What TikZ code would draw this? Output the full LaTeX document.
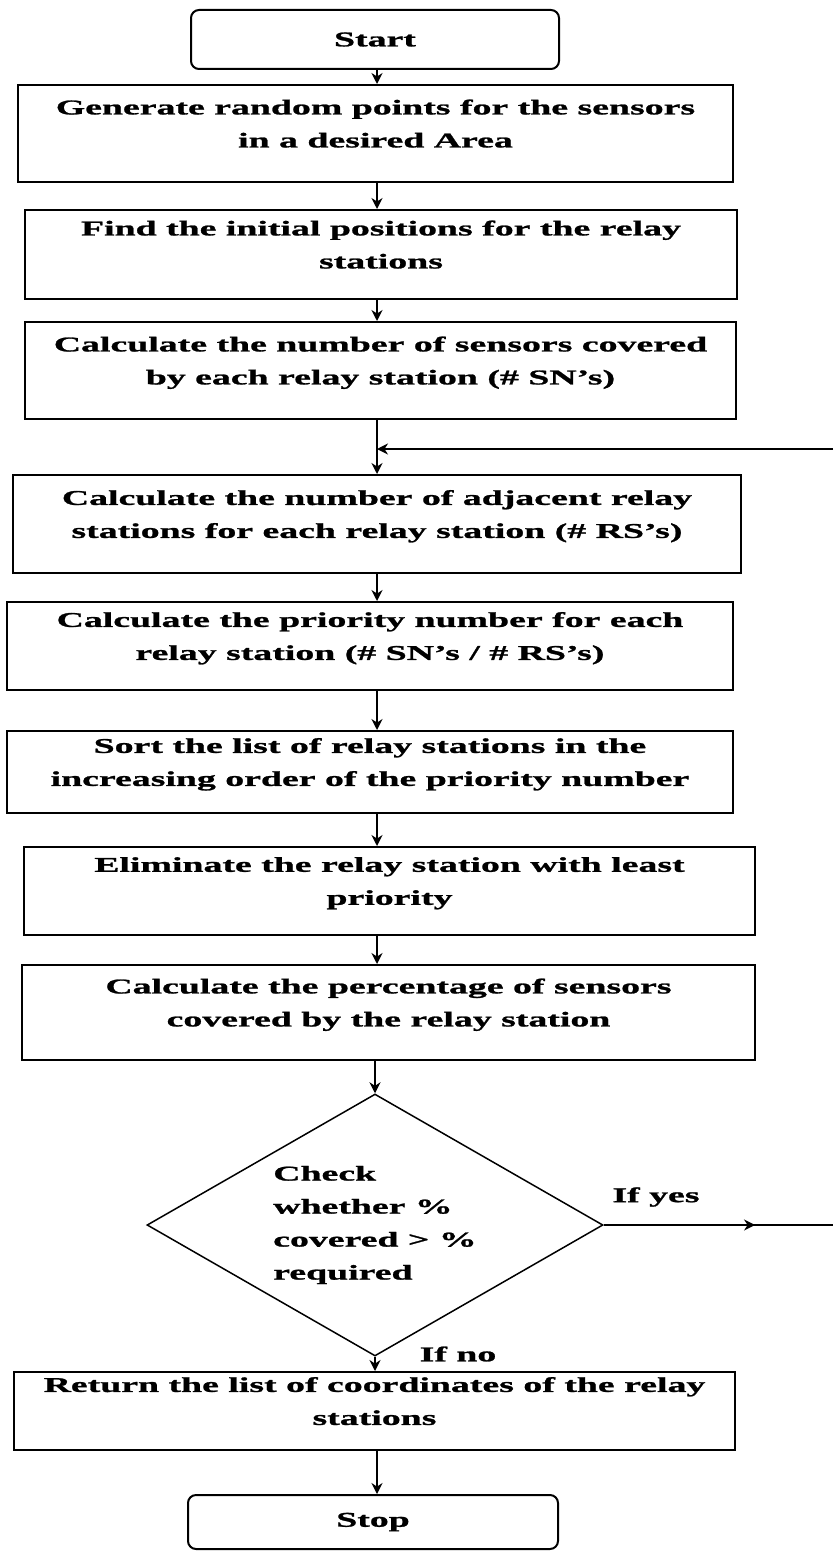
\documentclass[tikz,border=0pt]{standalone}
\usepackage{fontspec}
\newfontfamily\chartfont[FakeStretch=1.8,BoldFeatures={FakeBold=1.2}]{Liberation Serif}
\usepackage{tikz}
\usetikzlibrary{arrows.meta,shapes.geometric,positioning}
\usetikzlibrary{decorations.markings}
\tikzset{>={Stealth[length=11pt,width=11pt]}}
\tikzset{
  chart/.style={font=\chartfont\bfseries\fontsize{21}{33}\selectfont},
  procbox/.style={chart,draw,line width=2pt,inner sep=0pt,align=center,text depth=20pt},
  termbox/.style={chart,draw,line width=2pt,inner sep=0pt,rounded corners=8pt},
  decide/.style={chart,draw,line width=1.5pt,diamond,aspect=1.74,inner sep=0pt,align=left,
    minimum width=456pt,minimum height=262pt},
  flow/.style={line width=2pt,->},
  midflow/.style={line width=2pt,postaction={decorate},
    decoration={markings,mark=at position 0.66 with {\arrow{>}}}}
}
\begin{document}
\begin{tikzpicture}[x=1pt,y=-1pt]
  \useasboundingbox (0,0) rectangle (833,1552);
  \coordinate (axis) at (377,0);
  \node[termbox,minimum width=368pt,minimum height=59pt] (start) at (375,39.5) {Start};
  \node[procbox,minimum width=715pt,minimum height=97pt] (gen) at (375.5,133.5)
    {Generate random points for the sensors\\in a desired Area};
  \node[procbox,minimum width=712pt,minimum height=89pt] (init) at (381,254.5)
    {Find the initial positions for the relay\\stations};
  \node[procbox,minimum width=711pt,minimum height=97pt] (numsn) at (380.5,370.5)
    {Calculate the number of sensors covered\\by each relay station (\# SN’s)};
  \node[procbox,minimum width=728pt,minimum height=98pt] (numrs) at (377,524)
    {Calculate the number of adjacent relay\\stations for each relay station (\# RS’s)};
  \node[procbox,minimum width=726pt,minimum height=88pt] (prio) at (370,646)
    {Calculate the priority number for each\\relay station (\# SN’s / \# RS’s)};
  \node[procbox,minimum width=726pt,minimum height=82pt] (sort) at (370,772)
    {Sort the list of relay stations in the\\increasing order of the priority number};
  \node[procbox,minimum width=731pt,minimum height=88pt] (elim) at (389.5,891)
    {Eliminate the relay station with least\\priority};
  \node[procbox,minimum width=733pt,minimum height=95pt] (perc) at (388.5,1012.5)
    {Calculate the percentage of sensors\\covered by the relay station};
  \node[decide] (check) at (375,1225)
    {Check\\whether \%\\covered > \%\\required};
  \node[procbox,minimum width=721pt,minimum height=78pt] (ret) at (374.5,1411)
    {Return the list of coordinates of the relay\\stations};
  \node[termbox,minimum width=370pt,minimum height=54pt] (stop) at (373,1522) {Stop};
  \node[chart] (yeslabel) at (656,1197) {If yes};
  \node[chart] (nolabel) at (458,1354) {If no};
  \coordinate (loopin) at (833,449);
  \coordinate (yesout) at (833,1225);
  \draw[flow] (start.south -| axis) -- (gen.north -| axis);
  \draw[flow] (gen.south -| axis) -- (init.north -| axis);
  \draw[flow] (init.south -| axis) -- (numsn.north -| axis);
  \draw[flow] (numsn.south -| axis) -- (numrs.north -| axis);
  \draw[flow] (loopin) -- (loopin -| axis);
  \draw[flow] (numrs.south -| axis) -- (prio.north -| axis);
  \draw[flow] (prio.south -| axis) -- (sort.north -| axis);
  \draw[flow] (sort.south -| axis) -- (elim.north -| axis);
  \draw[flow] (elim.south -| axis) -- (perc.north -| axis);
  \draw[flow] (perc.south -| check.north) -- (check.north);
  \draw[midflow] (check.east) -- (yesout);
  \draw[flow] (check.south) -- (check.south |- ret.north);
  \draw[flow] (ret.south -| axis) -- (stop.north -| axis);
\end{tikzpicture}
\end{document}
